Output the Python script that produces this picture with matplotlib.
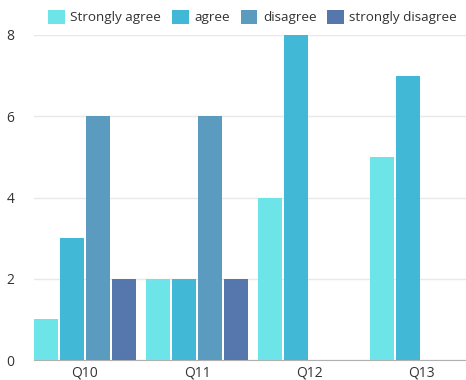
import numpy as np
import matplotlib
matplotlib.use("Agg")
import matplotlib.pyplot as plt

plt.rcParams['font.family'] = ['Open Sans', 'DejaVu Sans']

# data
questions = ["Q10", "Q11", "Q12", "Q13"]
series_names = ["Strongly agree", "agree", "disagree", "strongly disagree"]
strongly_agree = [1, 2, 4, 5]
agree = [3, 2, 8, 7]
disagree = [6, 6, 0, 0]
strongly_disagree = [2, 2, 0, 0]
colors = ["#6de5e8", "#40b8d6", "#5a9bbf", "#5677ae"]

values = [strongly_agree, agree, disagree, strongly_disagree]

fig = plt.figure(figsize=(4.66, 3.80), dpi=100)
ax = fig.add_axes([34 / 466, 20 / 380, 432 / 466, 325 / 380])

x = np.arange(len(questions))
step = 0.232
width = 0.214
for i, (name, vals, c) in enumerate(zip(series_names, values, colors)):
    ax.bar(x + (i - 1.5) * step, vals, width, color=c, label=name,
           zorder=3, clip_on=False)

ax.set_xlim(-0.455, 3.40)
ax.set_ylim(0, 8)
ax.set_yticks([0, 2, 4, 6, 8])
ax.set_xticks(x)
ax.set_xticklabels(questions)
ax.grid(axis="y", color="#e8e8e8", linewidth=1, zorder=0)
for s in ["top", "right", "left"]:
    ax.spines[s].set_visible(False)
ax.spines["bottom"].set_color("#b0b0b0")
ax.tick_params(axis="both", length=0, labelsize=10, colors="#333333")
ax.tick_params(axis="y", pad=14)
ax.tick_params(axis="x", pad=4)

fig.legend(loc="center", bbox_to_anchor=(0.542, 0.955), ncol=4, frameon=False,
           handlelength=1.25, handleheight=1.25, handletextpad=0.4,
           columnspacing=0.8, fontsize=9.7, labelcolor="#333333")

fig.savefig("out.png", dpi=100)
